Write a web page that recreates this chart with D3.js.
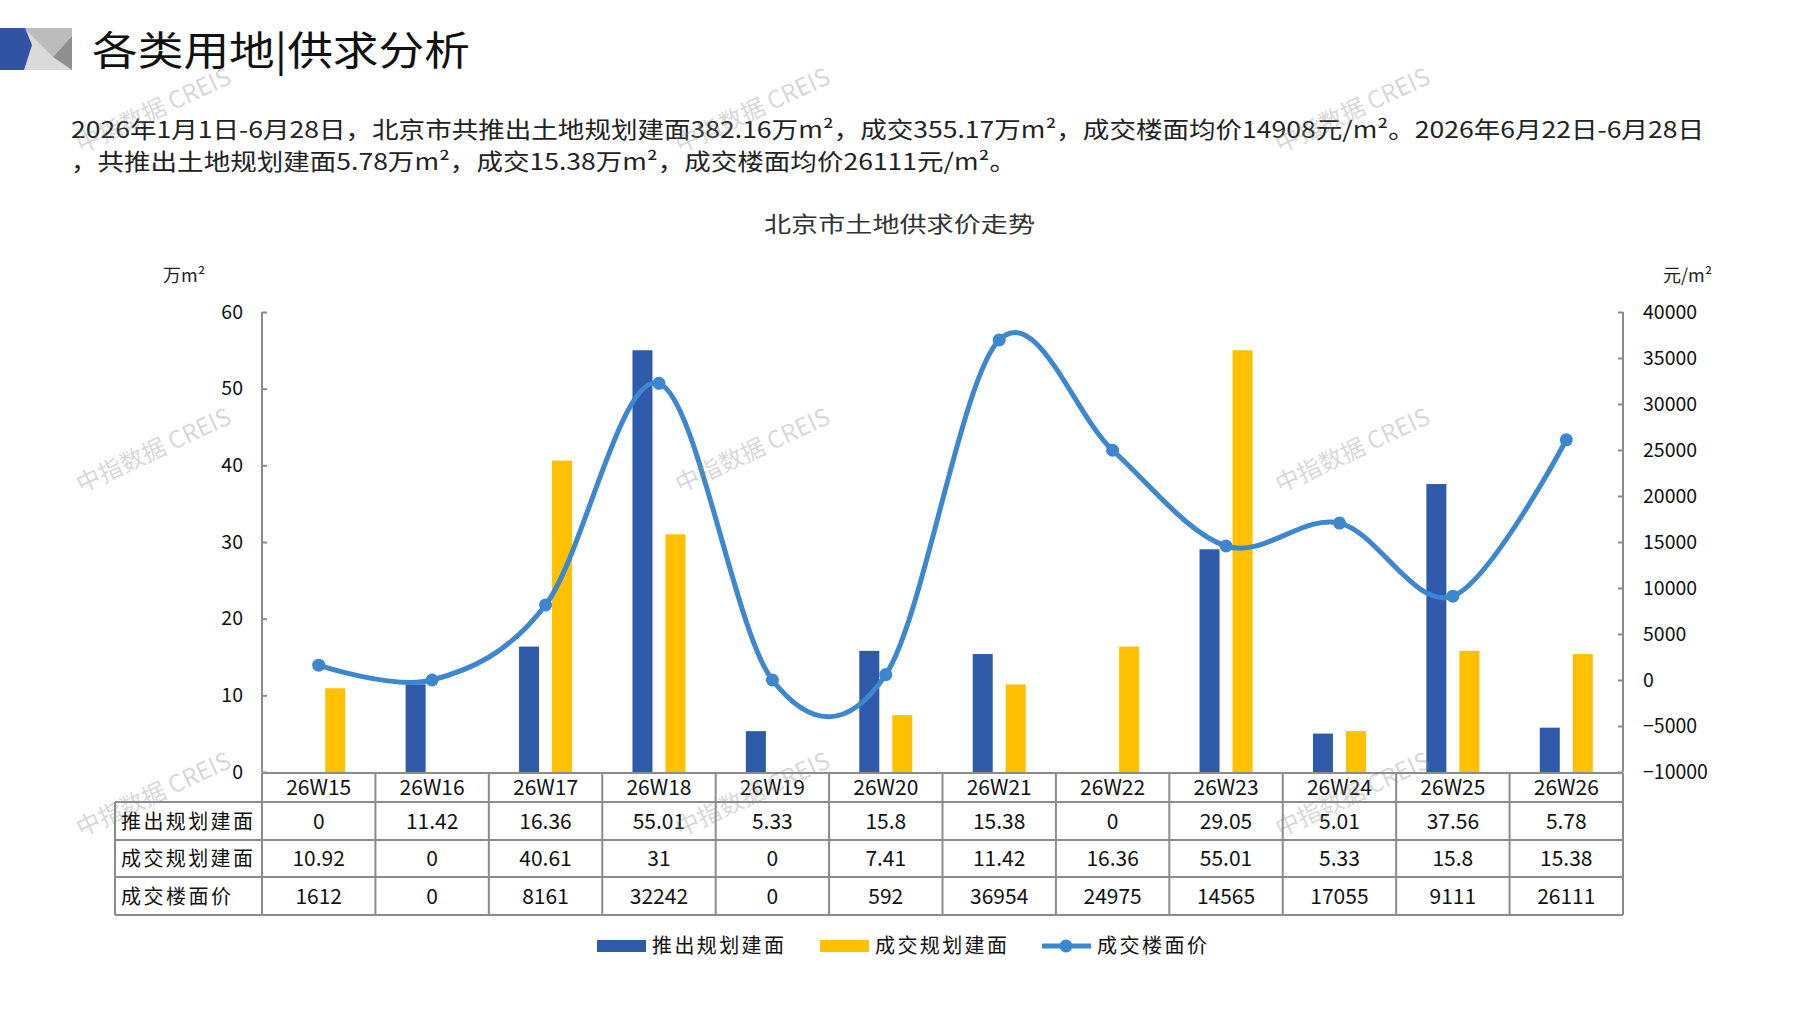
<!DOCTYPE html>
<html>
<head>
<meta charset="utf-8">
<script src="https://cdn.jsdelivr.net/npm/d3@7"></script>
<style>
  body { margin: 0; background: #fff; }
  svg text { font-family: "Noto Sans CJK SC", "Noto Sans", sans-serif; }
</style>
</head>
<body>
<div id="chart"></div>
<script>
// data
const weeks = ["26W15", "26W16", "26W17", "26W18", "26W19", "26W20", "26W21", "26W22", "26W23", "26W24", "26W25", "26W26"];
const supply = [0, 11.42, 16.36, 55.01, 5.33, 15.8, 15.38, 0, 29.05, 5.01, 37.56, 5.78];
const deal = [10.92, 0, 40.61, 31, 0, 7.41, 11.42, 16.36, 55.01, 5.33, 15.8, 15.38];
const price = [1612, 0, 8161, 32242, 0, 592, 36954, 24975, 14565, 17055, 9111, 26111];
const seriesNames = ["推出规划建面", "成交规划建面", "成交楼面价"];
const leftTicks = [0, 10, 20, 30, 40, 50, 60];
const rightTicks = [-10000, -5000, 0, 5000, 10000, 15000, 20000, 25000, 30000, 35000, 40000];

const W = 1797, H = 1010;
const blue = "#2e5aa9", yellow = "#ffc000", lineBlue = "#3c87cf", grey = "#8c8c8c";

const svg = d3.select("#chart").append("svg")
  .attr("width", W).attr("height", H);

// header decoration
const deco = svg.append("g");
deco.append("rect").attr("x", 24).attr("y", 28).attr("width", 48).attr("height", 42).attr("fill", "#dadada");
deco.append("polygon").attr("points", "24,28 72,28 72,36 53,57").attr("fill", "#bcbcbc");
deco.append("polygon").attr("points", "72,36 72,70 53,57 ").attr("fill", "#8f8f8f");
deco.append("polygon").attr("points", "0,28 25,28 32,45 24,70 0,70").attr("fill", "#3253a4");

svg.append("text")
  .attr("x", 92).attr("y", 65)
  .attr("font-size", 40)
  .attr("textLength", 378).attr("lengthAdjust", "spacingAndGlyphs")
  .attr("fill", "#111")
  .text("各类用地|供求分析");

svg.append("text")
  .attr("x", 71).attr("y", 138)
  .attr("font-size", 23).attr("fill", "#222")
  .attr("textLength", 1633).attr("lengthAdjust", "spacingAndGlyphs")
  .text("2026年1月1日-6月28日，北京市共推出土地规划建面382.16万m²，成交355.17万m²，成交楼面均价14908元/m²。2026年6月22日-6月28日");
svg.append("text")
  .attr("x", 71).attr("y", 170)
  .attr("font-size", 23).attr("fill", "#222")
  .attr("textLength", 945).attr("lengthAdjust", "spacingAndGlyphs")
  .text("，共推出土地规划建面5.78万m²，成交15.38万m²，成交楼面均价26111元/m²。");

// chart title
svg.append("text")
  .attr("x", 764).attr("y", 232)
  .attr("font-size", 22).attr("fill", "#333")
  .attr("textLength", 271).attr("lengthAdjust", "spacingAndGlyphs")
  .text("北京市土地供求价走势");

// scales
const plotL = 262, plotR = 1623, plotT = 312, plotB = 772;
const x = d3.scaleBand().domain(weeks).range([plotL, plotR]);
const yL = d3.scaleLinear().domain([0, 60]).range([plotB, plotT]);
const yR = d3.scaleLinear().domain([-10000, 40000]).range([plotB, plotT]);

// units
svg.append("text").attr("x", 163).attr("y", 282).attr("font-size", 18).attr("fill", "#222").text("万m²");
svg.append("text").attr("x", 1663).attr("y", 282).attr("font-size", 18).attr("fill", "#222").text("元/m²");

// axes
const axL = svg.append("g").attr("transform", `translate(${plotL},0)`)
  .call(d3.axisRight(yL).tickValues(leftTicks).tickSize(5).tickFormat(d3.format("d")));
const axR = svg.append("g").attr("transform", `translate(${plotR},0)`)
  .call(d3.axisLeft(yR).tickValues(rightTicks).tickSize(5).tickFormat(d3.format("d")));
[axL, axR].forEach(a => {
  a.select(".domain").attr("stroke", grey).attr("stroke-width", 2).attr("d", `M0,${plotT}V${plotB}`);
  a.selectAll(".tick line").attr("stroke", grey).attr("stroke-width", 2);
  a.selectAll(".tick text").attr("font-family", "'Liberation Sans', Arial, sans-serif").attr("font-size", 19.5).attr("fill", "#111");
});
axL.selectAll(".tick text").attr("x", -19).attr("text-anchor", "end");
axR.selectAll(".tick text").attr("x", 20).attr("text-anchor", "start");

// bars
const bw = 20, off = 16.5;
svg.append("g").selectAll("rect").data(supply).join("rect")
  .attr("x", (d, i) => x(weeks[i]) + x.bandwidth() / 2 - off - bw / 2)
  .attr("y", d => yL(d)).attr("width", bw).attr("height", d => plotB - yL(d))
  .attr("fill", blue);
svg.append("g").selectAll("rect").data(deal).join("rect")
  .attr("x", (d, i) => x(weeks[i]) + x.bandwidth() / 2 + off - bw / 2)
  .attr("y", d => yL(d)).attr("width", bw).attr("height", d => plotB - yL(d))
  .attr("fill", yellow);

// smoothed price line
const line = d3.line()
  .x((d, i) => x(weeks[i]) + x.bandwidth() / 2)
  .y(d => yR(d))
  .curve(d3.curveCardinal.tension(0));
svg.append("path").datum(price)
  .attr("d", line).attr("fill", "none")
  .attr("stroke", lineBlue).attr("stroke-width", 5);
svg.append("g").selectAll("circle").data(price).join("circle")
  .attr("cx", (d, i) => x(weeks[i]) + x.bandwidth() / 2)
  .attr("cy", d => yR(d)).attr("r", 6.5).attr("fill", lineBlue);

// data table
const tableL = 115;
const rowY = [773, 802, 840, 877, 915];
const tg = svg.append("g").attr("stroke", grey).attr("stroke-width", 2);
tg.append("line").attr("x1", plotL).attr("x2", plotR).attr("y1", rowY[0]).attr("y2", rowY[0]);
rowY.slice(1).forEach(y => tg.append("line").attr("x1", tableL).attr("x2", plotR).attr("y1", y).attr("y2", y));
tg.append("line").attr("x1", tableL).attr("x2", tableL).attr("y1", rowY[1]).attr("y2", rowY[4]);
x.domain().forEach(w => tg.append("line").attr("x1", x(w)).attr("x2", x(w)).attr("y1", rowY[0]).attr("y2", rowY[4]));
tg.append("line").attr("x1", plotR).attr("x2", plotR).attr("y1", rowY[0]).attr("y2", rowY[4]);

const cellText = (txt, cx, r) => svg.append("text")
  .attr("x", cx).attr("y", (rowY[r] + rowY[r + 1]) / 2 + 7.5)
  .attr("text-anchor", "middle").attr("font-size", 21).attr("fill", "#111").text(txt);

weeks.forEach(w => cellText(w, x(w) + x.bandwidth() / 2, 0));
[supply, deal, price].forEach((arr, r) => {
  arr.forEach((v, i) => cellText(String(v), x(weeks[i]) + x.bandwidth() / 2, r + 1));
  svg.append("text")
    .attr("x", 121).attr("y", (rowY[r + 1] + rowY[r + 2]) / 2 + 7.5)
    .attr("font-size", 20).attr("fill", "#111")
    .attr("textLength", seriesNames[r].length * 22).attr("lengthAdjust", "spacing")
    .text(seriesNames[r]);
});

// legend
const lg = svg.append("g");
const ly = 946;
lg.append("rect").attr("x", 597).attr("y", ly - 6).attr("width", 49).attr("height", 12).attr("fill", blue);
lg.append("rect").attr("x", 820).attr("y", ly - 6).attr("width", 49).attr("height", 12).attr("fill", yellow);
lg.append("line").attr("x1", 1042).attr("x2", 1091).attr("y1", ly).attr("y2", ly).attr("stroke", lineBlue).attr("stroke-width", 5);
lg.append("circle").attr("cx", 1066).attr("cy", ly).attr("r", 6.5).attr("fill", lineBlue);
[652, 875, 1097].forEach((lx, i) => lg.append("text")
  .attr("x", lx).attr("y", ly + 7).attr("font-size", 20).attr("fill", "#111")
  .attr("textLength", seriesNames[i].length * 22).attr("lengthAdjust", "spacing")
  .text(seriesNames[i]));

// watermarks
const wmX = [157, 756, 1356], wmY = [118, 458, 802];
wmY.forEach(wy => wmX.forEach(wx => svg.append("text")
  .attr("transform", `translate(${wx},${wy}) rotate(-25)`)
  .attr("text-anchor", "middle").attr("font-size", 24)
  .attr("fill", "rgba(140,140,140,0.35)")
  .text("中指数据 CREIS")));
</script>
</body>
</html>
